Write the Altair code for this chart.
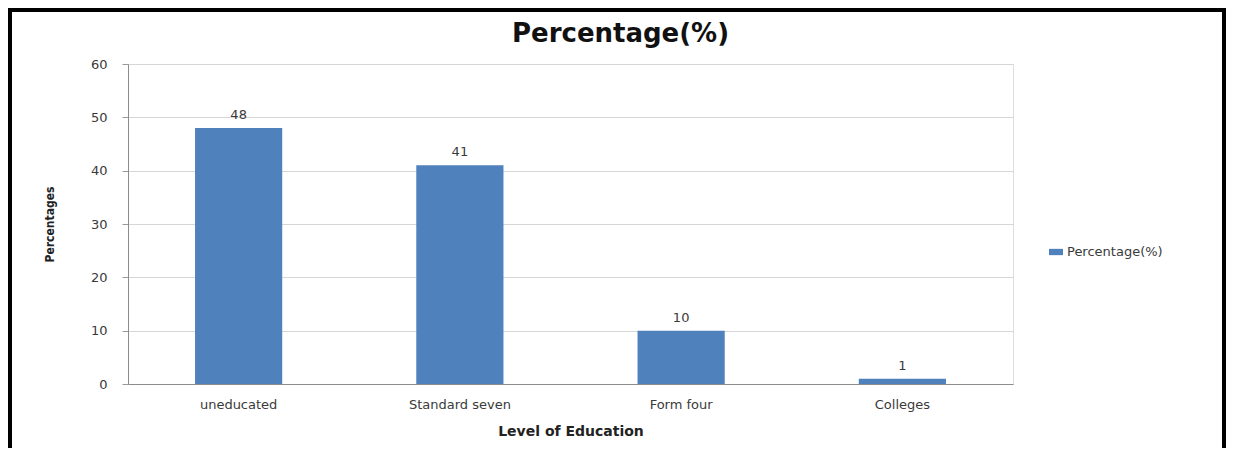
import altair as alt
import pandas as pd

categories = ["uneducated", "Standard seven", "Form four", "Colleges"]
values = [48, 41, 10, 1]
series_name = "Percentage(%)"

df = pd.DataFrame({"level": categories, "pct": values, "series": [series_name] * len(categories)})

W, H = 885, 320
PAD_L, PAD_T = 120, 56
TOTAL_W, TOTAL_H = 1218, 440

label_font = "DejaVu Sans"
label_color = "#3a3a3a"

x_enc = alt.X(
    "level:N",
    sort=categories,
    scale=alt.Scale(paddingInner=0.606, paddingOuter=0.303),
    axis=alt.Axis(
        title="Level of Education",
        labelAngle=0,
        ticks=False,
        labelPadding=14,
        labelFont=label_font,
        labelFontSize=13,
        labelColor=label_color,
        titleFont=label_font,
        titleFontSize=14,
        titleFontWeight="bold",
        titleColor="#222222",
        titlePadding=13,
        domainColor="#8c8c8c",
    ),
)

y_enc = alt.Y(
    "pct:Q",
    scale=alt.Scale(domain=[0, 60], nice=False),
    axis=alt.Axis(
        title="Percentages",
        values=[0, 10, 20, 30, 40, 50, 60],
        tickSize=6,
        tickColor="#9a9a9a",
        domainColor="#8c8c8c",
        gridColor="#d6d6d6",
        labelPadding=15,
        labelFont=label_font,
        labelFontSize=13,
        labelColor=label_color,
        titleFont="DejaVu Sans Condensed",
        titleFontSize=12,
        titleFontWeight="bold",
        titleColor="#222222",
        titleX=-72,
        titleY=H / 2,
        titleAngle=270,
    ),
)

bars = alt.Chart(df).mark_bar(color="#4F81BD").encode(
    x=x_enc,
    y=y_enc,
    color=alt.Color(
        "series:N",
        scale=alt.Scale(range=["#4F81BD"]),
        legend=alt.Legend(
            title=None,
            orient="none",
            legendX=921,
            legendY=181,
            symbolType="M-1,-0.45L1,-0.45L1,0.45L-1,0.45Z",
            symbolSize=196,
            symbolStrokeWidth=0,
            labelFont=label_font,
            labelFontSize=13,
            labelColor=label_color,
        ),
    ),
)

texts = alt.Chart(df).mark_text(
    dy=-6, baseline="bottom", font=label_font, fontSize=13, color=label_color
).encode(x=alt.X("level:N", sort=categories), y="pct:Q", text="pct:Q")

frame_df = pd.DataFrame({"f": [0]})
frame = alt.Chart(frame_df).mark_rect(
    fill="transparent", stroke="#000000", strokeWidth=4
).encode(
    x=alt.value(-PAD_L + 2),
    x2=alt.value(TOTAL_W - PAD_L - 2),
    y=alt.value(-PAD_T + 2),
    y2=alt.value(TOTAL_H - PAD_T + 8),
)

chart = alt.layer(bars, texts, frame).properties(
    width=W,
    height=H,
    title=alt.TitleParams(
        text="Percentage(%)",
        font="DejaVu Sans",
        fontSize=26,
        fontWeight="bold",
        color="#111111",
        anchor="middle",
        frame="group",
        baseline="alphabetic",
        dx=50,
        offset=-60,
    ),
    padding={"left": PAD_L, "top": PAD_T, "right": TOTAL_W - PAD_L - W, "bottom": TOTAL_H - PAD_T - H},
    autosize=alt.AutoSizeParams(type="none"),
).configure_view(stroke=None).configure(background="white")

chart.save("out.html", embed_options={"renderer": "svg", "actions": False})
